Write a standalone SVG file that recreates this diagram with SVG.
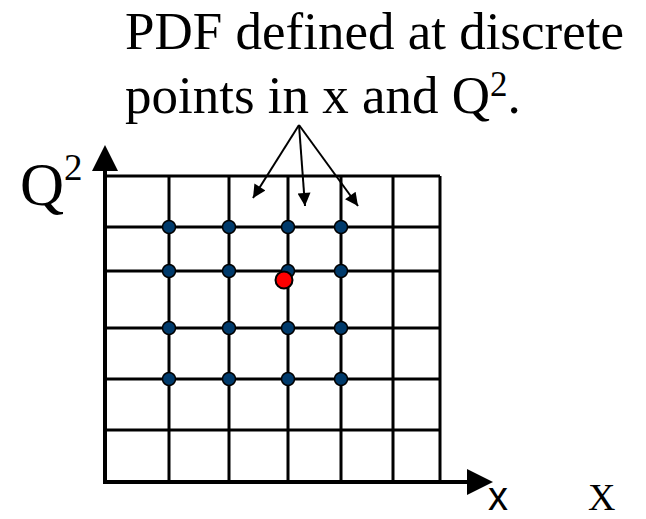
<svg xmlns="http://www.w3.org/2000/svg" width="646" height="519" viewBox="0 0 646 519">
<style>
.grid{stroke:#000;stroke-width:3;fill:none}
.axis{stroke:#000;stroke-width:4;fill:none}
.pt{fill:#003a6b;stroke:#000;stroke-width:1.5}
.lead{stroke:#000;stroke-width:2;fill:none}
.serif{font-family:"Liberation Serif","Times New Roman",serif;fill:#000}
.sans{font-family:"Liberation Sans",Arial,sans-serif;fill:#000}
</style>
<defs>
<marker id="ah" viewBox="0 0 10 10" refX="10" refY="5" markerWidth="8" markerHeight="6.5" markerUnits="strokeWidth" orient="auto">
<path d="M0,0 L10,5 L0,10 z" fill="#000"/>
</marker>
</defs>
<rect width="646" height="519" fill="#fff"/>
<g id="grid">
<path class="grid" d="M105,176H440 M105,227H440 M105,271H440 M105,328H440 M105,379H440 M105,430H440"/>
<path class="grid" d="M169,176V482 M229,176V482 M288,176V482 M341,176V482 M393,176V482 M440,176V482"/>
</g>
<g id="axes">
<path class="axis" d="M105,484V168"/>
<path d="M92,171L105,145L118,171z" fill="#000"/>
<path class="axis" d="M103,482H470"/>
<path d="M467,469L493,482L467,495z" fill="#000"/>
</g>
<g id="points">
<circle class="pt" cx="169" cy="227" r="6.5"/>
<circle class="pt" cx="229" cy="227" r="6.5"/>
<circle class="pt" cx="288" cy="227" r="6.5"/>
<circle class="pt" cx="341" cy="227" r="6.5"/>
<circle class="pt" cx="169" cy="271" r="6.5"/>
<circle class="pt" cx="229" cy="271" r="6.5"/>
<circle class="pt" cx="288" cy="271" r="6.5"/>
<circle class="pt" cx="341" cy="271" r="6.5"/>
<circle class="pt" cx="169" cy="328" r="6.5"/>
<circle class="pt" cx="229" cy="328" r="6.5"/>
<circle class="pt" cx="288" cy="328" r="6.5"/>
<circle class="pt" cx="341" cy="328" r="6.5"/>
<circle class="pt" cx="169" cy="379" r="6.5"/>
<circle class="pt" cx="229" cy="379" r="6.5"/>
<circle class="pt" cx="288" cy="379" r="6.5"/>
<circle class="pt" cx="341" cy="379" r="6.5"/>
</g>
<g id="target">
<circle cx="284" cy="280" r="8.5" fill="#ff0000" stroke="#000" stroke-width="2"/>
</g>
<g id="connectors">
<line class="lead" x1="299" y1="125" x2="253" y2="198" marker-end="url(#ah)"/>
<line class="lead" x1="299" y1="125" x2="305" y2="206" marker-end="url(#ah)"/>
<line class="lead" x1="299" y1="125" x2="358" y2="206" marker-end="url(#ah)"/>
</g>
<g id="caption">
<text class="serif" x="125" y="49" font-size="53">PDF defined at discrete</text>
<text class="serif" x="125" y="113" font-size="53">points in x and Q<tspan font-size="35" dy="-17">2</tspan><tspan dy="17">.</tspan></text>
</g>
<g id="ylabel">
<text class="serif" x="20" y="205" font-size="61">Q<tspan font-size="37" dy="-25">2</tspan></text>
</g>
<g id="xlabels">
<text class="sans" x="488" y="510" font-size="40">x</text>
<text class="serif" x="588" y="510" font-size="38">X</text>
</g>
</svg>
